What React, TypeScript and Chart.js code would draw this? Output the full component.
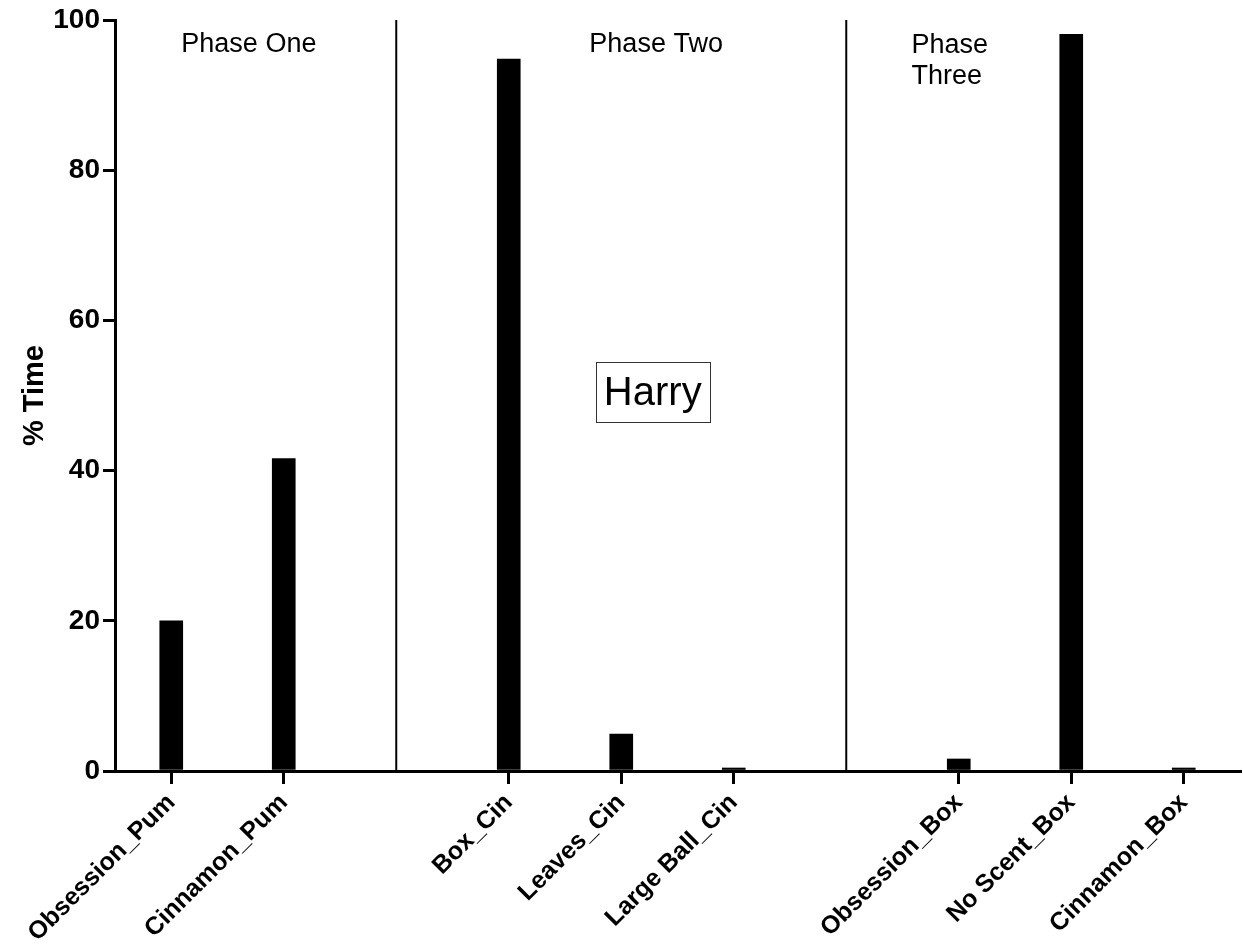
import React, { useEffect, useRef } from 'react';
import { Chart, registerables } from 'chart.js';

Chart.register(...registerables);

const categories = [
  'Obsession_Pum',
  'Cinnamon_Pum',
  '',
  'Box_Cin',
  'Leaves_Cin',
  'Large Ball_Cin',
  '',
  'Obsession_Box',
  'No Scent_Box',
  'Cinnamon_Box',
];
const values: (number | null)[] = [20, 41.6, null, 94.8, 4.9, 0.4, null, 1.6, 98.1, 0.4];
const yTicks = [0, 20, 40, 60, 80, 100];
const separatorSlots = [2, 6];
const phaseLabels = [
  { lines: ['Phase One'], slot: 0.69, value: 95.7, align: 'center' },
  { lines: ['Phase Two'], slot: 4.31, value: 95.7, align: 'center' },
  { lines: ['Phase', 'Three'], slot: 6.58, value: 95.6, align: 'left' },
];
const panelLabel = { text: 'Harry', slot: 4.28, value: 50.4 };
const yTitle = '% Time';

const FONT = '"Liberation Sans", Arial, Helvetica, sans-serif';

const annotationPlugin = {
  id: 'annotations',
  beforeDatasetsDraw(chart: any) {
    const { ctx, chartArea, scales } = chart;
    const x = scales.x;
    ctx.save();
    ctx.strokeStyle = '#000';
    ctx.lineWidth = 2;
    separatorSlots.forEach((s) => {
      const px = x.getPixelForValue(s);
      ctx.beginPath();
      ctx.moveTo(px, chartArea.top);
      ctx.lineTo(px, chartArea.bottom);
      ctx.stroke();
    });
    ctx.restore();
  },
  afterDraw(chart: any) {
    const { ctx, scales } = chart;
    const x = scales.x;
    const y = scales.y;
    ctx.save();
    ctx.fillStyle = '#000';
    ctx.font = `27px ${FONT}`;
    ctx.textBaseline = 'alphabetic';
    phaseLabels.forEach((p) => {
      ctx.textAlign = p.align;
      const px = x.getPixelForValue(p.slot);
      const py = y.getPixelForValue(p.value);
      p.lines.forEach((line, i) => {
        ctx.fillText(line, px, py + i * 31);
      });
    });
    // Harry box
    const hx = x.getPixelForValue(panelLabel.slot);
    const hy = y.getPixelForValue(panelLabel.value);
    ctx.font = `40px ${FONT}`;
    const w = ctx.measureText(panelLabel.text).width;
    const bw = w + 16;
    const bh = 60;
    ctx.strokeStyle = '#333';
    ctx.lineWidth = 1;
    ctx.strokeRect(Math.round(hx - bw / 2) + 0.5, Math.round(hy - bh / 2) + 0.5, Math.round(bw), bh);
    ctx.textAlign = 'center';
    ctx.fillText(panelLabel.text, hx, hy + 13);
    ctx.restore();
  },
};

export default function App() {
  const ref = useRef<HTMLCanvasElement>(null);
  useEffect(() => {
    document.body.style.margin = '0';
    const canvas = ref.current!;
    const chart = new Chart(canvas, {
      type: 'bar',
      data: {
        labels: categories,
        datasets: [
          {
            data: values,
            backgroundColor: '#000',
            borderWidth: 0,
            barThickness: 23,
          },
        ],
      },
      options: {
        responsive: false,
        animation: false,
        devicePixelRatio: 1,
        layout: { padding: { top: 20, right: 3, left: 0, bottom: 0 } },
        plugins: {
          legend: { display: false },
          tooltip: { enabled: false },
        },
        scales: {
          x: {
            type: 'category',
            offset: true,
            border: { display: true, color: '#000', width: 3 },
            grid: {
              offset: false,
              drawOnChartArea: false,
              drawTicks: true,
              tickLength: 13,
              lineWidth: 3,
              tickColor: (ctx: any) => (categories[ctx.index] ? '#000' : 'rgba(0,0,0,0)'),
              color: '#000',
            },
            ticks: {
              autoSkip: false,
              maxRotation: 45,
              minRotation: 45,
              padding: 4,
              color: '#000',
              font: { family: FONT, size: 25, weight: 'bold' },
            },
            afterFit(scale: any) {
              scale.height = 180;
            },
          },
          y: {
            min: 0,
            max: 100,
            border: { display: true, color: '#000', width: 3 },
            grid: {
              drawOnChartArea: false,
              drawTicks: true,
              tickLength: 12,
              lineWidth: 3,
              tickColor: '#000',
              color: '#000',
            },
            ticks: {
              padding: 3,
              color: '#000',
              font: { family: FONT, size: 28, weight: 'bold' },
            },
            afterBuildTicks(scale: any) {
              scale.ticks = yTicks.map((v) => ({ value: v }));
            },
            title: {
              display: true,
              text: yTitle,
              color: '#000',
              font: { family: FONT, size: 29, weight: 'bold' },
              padding: { top: 18, bottom: 0 },
            },
            afterFit(scale: any) {
              scale.width = 115;
            },
          },
        },
      },
      plugins: [annotationPlugin],
    } as any);
    return () => chart.destroy();
  }, []);
  return <canvas ref={ref} width={1243} height={951} style={{ display: 'block' }} />;
}
